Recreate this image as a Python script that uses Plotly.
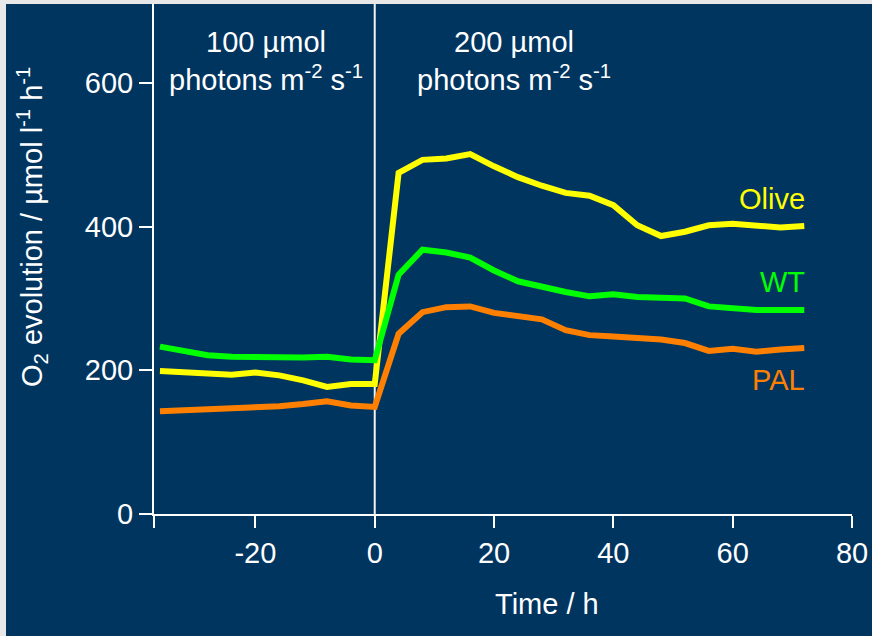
import plotly.graph_objects as go

# ---- data ----
time_h = [-36, -32, -28, -24, -20, -16, -12, -8, -4, 0, 4, 8, 12, 16, 20, 24, 28,
          32, 36, 40, 44, 48, 52, 56, 60, 64, 68, 72]
olive = [199, 197, 195, 194, 197, 193, 186, 177, 181, 181, 475, 493, 495, 501, 484,
         469, 457, 447, 443, 430, 402, 387, 393, 402, 404, 401, 399, 401]
wt = [233, 226, 221, 219, 218, 218, 218, 219, 215, 214, 333, 368, 364, 357, 339,
      324, 316, 309, 303, 306, 302, 301, 300, 289, 286, 284, 284, 284]
pal = [143, 144, 146, 146, 148, 150, 153, 157, 151, 149, 251, 281, 288, 289, 280,
       275, 271, 256, 249, 247, 245, 243, 238, 227, 230, 226, 229, 231]

series_names = ["Olive", "WT", "PAL"]
series_values = [olive, wt, pal]
series_colors = ["#FFFF00", "#00FF00", "#FF8000"]

x_ticks = [-37, -20, 0, 20, 40, 60, 80]
x_ticktext = ["", "-20", "0", "20", "40", "60", "80"]
y_ticks = [0, 200, 400, 600]

BG = "#003560"
FONT = "Liberation Sans, Arial, sans-serif"
FS = 29

fig = go.Figure()
for name, vals, col in zip(series_names, series_values, series_colors):
    fig.add_trace(go.Scatter(x=time_h, y=vals, mode="lines", name=name,
                             line=dict(color=col, width=6), showlegend=False,
                             hoverinfo="skip"))

W, H = 872, 636
ml, mr, mt, mb = 154, 20, 4, 122
pw, ph = W - ml - mr, H - mt - mb

def px_x(p):
    return (p - ml) / pw

def px_y(p):
    return (H - mb - p) / ph

# light grey frame on top/left, dark panel elsewhere
fig.add_shape(type="rect", xref="paper", yref="paper",
              x0=px_x(6), x1=px_x(W + 20), y0=px_y(H + 20), y1=px_y(4),
              fillcolor=BG, line=dict(width=0), layer="below")

# vertical separator at t = 0
fig.add_shape(type="line", xref="x", yref="paper", x0=0, x1=0, y0=0, y1=1,
              line=dict(color="#F2F2F2", width=2), layer="below")

# series labels
for name, col, yv in zip(series_names, series_colors, [438, 323, 186]):
    fig.add_annotation(x=72.5, y=yv, xref="x", yref="y", text=name, showarrow=False,
                       xanchor="right", yanchor="middle",
                       font=dict(color=col, size=FS, family=FONT))

# light-level annotations
for xv, txt in [(-18.3, "100 µmol<br>photons m<sup>-2</sup> s<sup>-1</sup>"),
                (23.3, "200 µmol<br>photons m<sup>-2</sup> s<sup>-1</sup>")]:
    fig.add_annotation(x=xv, y=631, xref="x", yref="y", text=txt, showarrow=False,
                       xanchor="center", yanchor="middle", align="center",
                       font=dict(color="white", size=FS, family=FONT))

# axis titles
fig.add_annotation(x=px_x(32), y=px_y(227), xref="paper", yref="paper",
                   text="O<sub>2</sub> evolution / µmol l<sup>-1</sup> h<sup>-1</sup>",
                   textangle=-90, showarrow=False, xanchor="center", yanchor="middle",
                   font=dict(color="white", size=FS, family=FONT))
fig.add_annotation(x=px_x(547), y=px_y(604), xref="paper", yref="paper",
                   text="Time / h", showarrow=False, xanchor="center", yanchor="middle",
                   font=dict(color="white", size=FS, family=FONT))

fig.update_xaxes(range=[-37, 80], tickvals=x_ticks, ticktext=x_ticktext,
                 showgrid=False, zeroline=False, showline=True, linecolor="white",
                 linewidth=2, ticks="outside", ticklen=12, tickwidth=2,
                 tickcolor="white", tickfont=dict(color="white", size=FS, family=FONT))
fig.update_yaxes(range=[0, 710], tickvals=y_ticks, showgrid=False, zeroline=False,
                 showline=True, linecolor="white", linewidth=2, ticks="outside",
                 ticklen=13, tickwidth=2, tickcolor="white",
                 tickfont=dict(color="white", size=FS, family=FONT))

fig.update_layout(width=W, height=H, margin=dict(l=ml, r=mr, t=mt, b=mb),
                  paper_bgcolor="#E8E8E8", plot_bgcolor=BG,
                  font=dict(family=FONT, color="white"))

fig.write_html("out.html",
               config={"displayModeBar": False},
               post_script="document.body.style.margin='0';"
                           "document.body.style.overflow='hidden';")
